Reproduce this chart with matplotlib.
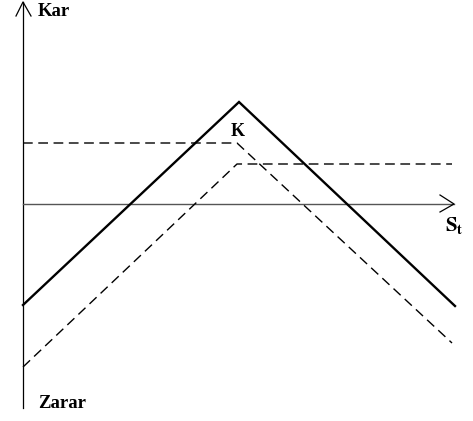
import matplotlib
matplotlib.use("Agg")
import matplotlib.pyplot as plt

plt.rcParams["mathtext.fontset"] = "stix"

# Data (units: pixel-like payoff units; origin at axes crossing)
S_total = [0, 216, 432]
total = [-101, 102, -102]
S_put = [0, 214, 429]
put_like = [61, 61, -139]
S_call = [0, 214, 429]
call_like = [-163, 40, 40]
K_pos = 214

fig = plt.figure(figsize=(4.73, 4.21), dpi=100)
ax = fig.add_axes([0, 0, 1, 1])
ax.set_xlim(-23, 450)
ax.set_ylim(-217, 204)
ax.axis("off")

font = dict(family="Liberation Serif", weight="bold", color="black")

# axes
ax.plot([0, 0], [-204, 202], color="black", lw=0.9)
ax.plot([-7, 0, 8], [188, 202, 188], color="black", lw=0.9)
ax.plot([0, 431], [0, 0], color="#555555", lw=1.0)
ax.plot([417, 431, 417], [9, 0, -8], color="black", lw=0.9)

# lines
ax.plot(S_total, total, color="black", lw=1.7, solid_joinstyle="miter")
ax.plot(S_put, put_like, color="black", lw=1.0, dashes=(7, 4))
ax.plot(S_call, call_like, color="black", lw=1.0, dashes=(7, 4))

ax.text(15, 192, "Kar", fontsize=13.5, ha="left", va="center", **font)
ax.text(15, -200, "Zarar", fontsize=13.5, ha="left", va="center", **font)
ax.text(K_pos + 1, 73, "K", fontsize=13, ha="center", va="center", **font)
ax.text(431, -22, r"$\mathbf{S_t}$", fontsize=15, ha="center", va="center",
        color="black")

fig.savefig("out.png", dpi=100)
